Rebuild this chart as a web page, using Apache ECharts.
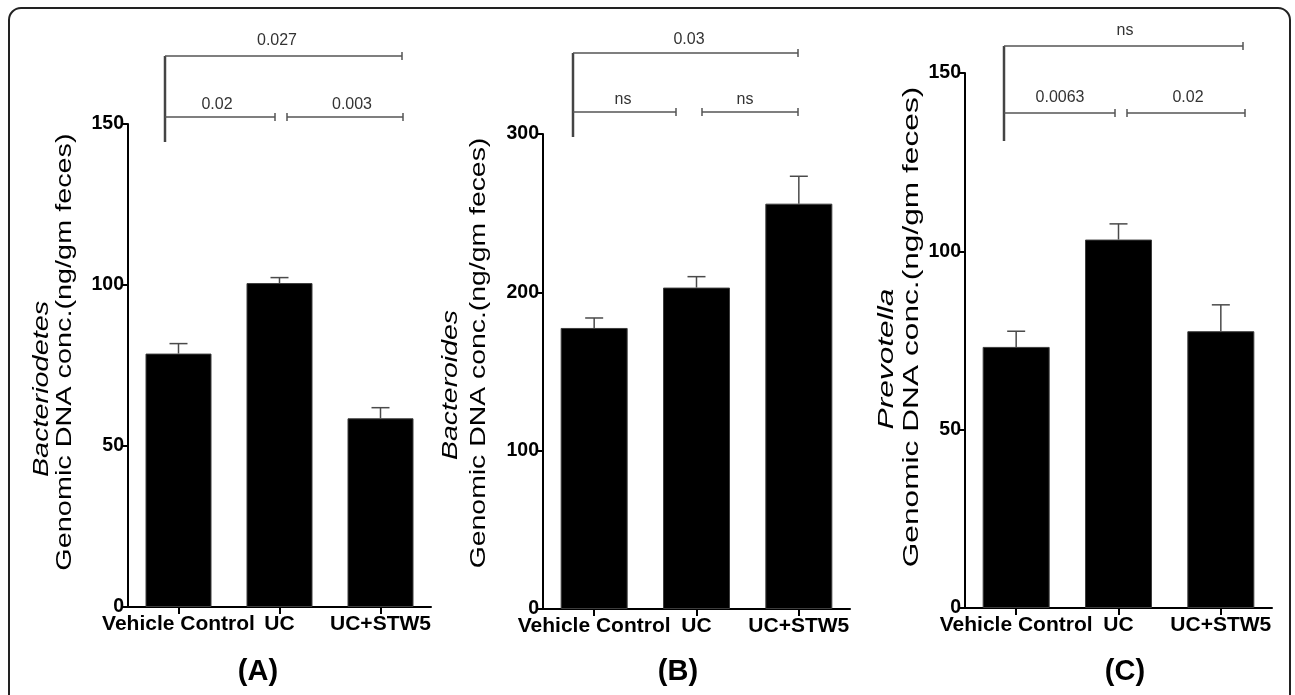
<!DOCTYPE html>
<html>
<head>
<meta charset="utf-8">
<script src="https://cdn.jsdelivr.net/npm/echarts@6/dist/echarts.min.js"></script>
<style>
html,body{margin:0;padding:0;background:#fff;}
#chart{width:1295px;height:695px;}
</style>
</head>
<body>
<div id="chart"></div>
<script>
// ---------- data ----------
const categories = ['Vehicle Control', 'UC', 'UC+STW5'];

const meanA = [78.7, 100.6, 58.6];
const semA  = [3.1, 1.7, 3.3];
const meanB = [177.5, 203, 256];
const semB  = [6.3, 6.9, 17.3];
const meanC = [73.2, 103.3, 77.6];
const semC  = [4.4, 4.4, 7.4];

const yMaxA = 150, yStepA = 50;
const yMaxB = 300, yStepB = 100;
const yMaxC = 150, yStepC = 50;

const titleA = ['Bacteriodetes', 'Genomic DNA conc.(ng/gm feces)'];
const titleB = ['Bacteroides', 'Genomic DNA conc.(ng/gm feces)'];
const titleC = ['Prevotella', 'Genomic DNA conc.(ng/gm feces)'];

const pA = ['0.027', '0.02', '0.003'];
const pB = ['0.03', 'ns', 'ns'];
const pC = ['ns', '0.0063', '0.02'];

const panelLabels = ['(A)', '(B)', '(C)'];

// ---------- layout ----------
const FONT = '"Liberation Sans", Arial, Helvetica, sans-serif';
const panels = [
  { mean: meanA, sem: semA, max: yMaxA, step: yStepA, title: titleA, p: pA, label: panelLabels[0],
    grid: { left: 128, top: 124, width: 303, height: 483 }, barW: 66,
    tt: { x1: 42, y1: 389, x2: 65, y2: 352, s: 1.31 },
    br: { x0: 165, yTop: 56, yBot: 142, xTopEnd: 402, y2: 117, xL: 275, xR0: 287, xR1: 403, tTop: 41, t2: 104.5, cTop: 277, cL: 217, cR: 352 },
    lab: { x: 258, y: 672 } },
  { mean: meanB, sem: semB, max: yMaxB, step: yStepB, title: titleB, p: pB, label: panelLabels[1],
    grid: { left: 543, top: 134, width: 307, height: 475 }, barW: 67,
    tt: { x1: 451, y1: 385, x2: 479, y2: 353, s: 1.29 },
    br: { x0: 573, yTop: 53, yBot: 137, xTopEnd: 798, y2: 112, xL: 676, xR0: 702, xR1: 798, tTop: 40, t2: 99.5, cTop: 689, cL: 623, cR: 745 },
    lab: { x: 678, y: 672 } },
  { mean: meanC, sem: semC, max: yMaxC, step: yStepC, title: titleC, p: pC, label: panelLabels[2],
    grid: { left: 965, top: 73, width: 307, height: 535 }, barW: 67,
    tt: { x1: 887, y1: 359, x2: 912, y2: 327, s: 1.44 },
    br: { x0: 1004, yTop: 46, yBot: 141, xTopEnd: 1243, y2: 113, xL: 1115, xR0: 1127, xR1: 1245, tTop: 31, t2: 97.5, cTop: 1125, cL: 1060, cR: 1188 },
    lab: { x: 1125, y: 672 } }
];

const grids = [], xAxes = [], yAxes = [], series = [], graphics = [];

function errRender(params, api) {
  const i = api.value(0), m = api.value(1), s = api.value(2);
  const p0 = api.coord([i, m]);
  const p1 = api.coord([i, m + s]);
  const half = 9;
  const st = { stroke: '#4a4a4a', lineWidth: 1.5 };
  return {
    type: 'group',
    children: [
      { type: 'line', shape: { x1: p0[0], y1: p0[1], x2: p1[0], y2: p1[1] }, style: st },
      { type: 'line', shape: { x1: p1[0] - half, y1: p1[1], x2: p1[0] + half, y2: p1[1] }, style: st }
    ]
  };
}

function txt(x, y, text, font, opts) {
  opts = opts || {};
  return {
    type: 'text', x: x, y: y, rotation: opts.rot || 0, scaleX: opts.sx || 1, scaleY: 1,
    silent: true, z: 100,
    style: { text: text, font: font, fill: opts.fill || '#000',
      textAlign: 'center', textVerticalAlign: 'middle', align: 'center', verticalAlign: 'middle' }
  };
}
function seg(x1, y1, x2, y2, w, c) {
  return { type: 'line', silent: true, z: 100, shape: { x1: x1, y1: y1, x2: x2, y2: y2 },
    style: { stroke: c || '#555', lineWidth: w || 1.5 } };
}

panels.forEach(function (P, k) {
  grids.push(Object.assign({ containLabel: false }, P.grid));
  xAxes.push({
    type: 'category', gridIndex: k, data: categories, boundaryGap: true,
    axisLine: { show: true, lineStyle: { color: '#000', width: 2 } },
    axisTick: { show: true, alignWithLabel: true, length: 7, lineStyle: { color: '#000', width: 2 } },
    axisLabel: { interval: 0, color: '#000', fontSize: 21, fontWeight: 'bold', fontFamily: FONT, margin: 7 },
    splitLine: { show: false }
  });
  yAxes.push({
    type: 'value', gridIndex: k, min: 0, max: P.max, interval: P.step,
    axisLine: { show: true, lineStyle: { color: '#000', width: 2 } },
    axisTick: { show: true, length: 6, lineStyle: { color: '#000', width: 2 } },
    axisLabel: { color: '#000', fontSize: 19.5, fontWeight: 'bold', fontFamily: FONT, margin: 4 },
    splitLine: { show: false }
  });
  series.push({
    type: 'bar', xAxisIndex: k, yAxisIndex: k, data: P.mean, barWidth: P.barW,
    itemStyle: { color: '#000', borderColor: '#3c3c3c', borderWidth: 1 },
    silent: true, z: 2
  });
  series.push({
    type: 'custom', xAxisIndex: k, yAxisIndex: k, renderItem: errRender, z: 5, silent: true,
    data: P.mean.map(function (m, i) { return [i, m, P.sem[i]]; })
  });

  // y-axis titles (stretched along their length as in the reference)
  graphics.push(txt(P.tt.x1, P.tt.y1, P.title[0], 'italic 22px ' + FONT, { rot: Math.PI / 2, sx: P.tt.s }));
  graphics.push(txt(P.tt.x2, P.tt.y2, P.title[1], '22px ' + FONT, { rot: Math.PI / 2, sx: P.tt.s }));

  // significance brackets
  const b = P.br;
  graphics.push(seg(b.x0, b.yTop, b.x0, b.yBot, 2.5, '#444'));
  graphics.push(seg(b.x0, b.yTop, b.xTopEnd, b.yTop, 1.5));
  graphics.push(seg(b.xTopEnd, b.yTop - 4, b.xTopEnd, b.yTop + 4, 1.5));
  graphics.push(seg(b.x0, b.y2, b.xL, b.y2, 1.5));
  graphics.push(seg(b.xL, b.y2 - 4, b.xL, b.y2 + 4, 1.5));
  graphics.push(seg(b.xR0, b.y2, b.xR1, b.y2, 1.5));
  graphics.push(seg(b.xR0, b.y2 - 4, b.xR0, b.y2 + 4, 1.5));
  graphics.push(seg(b.xR1, b.y2 - 4, b.xR1, b.y2 + 4, 1.5));
  graphics.push(txt(b.cTop, b.tTop, P.p[0], '16px ' + FONT, { fill: '#333' }));
  graphics.push(txt(b.cL, b.t2, P.p[1], '16px ' + FONT, { fill: '#333' }));
  graphics.push(txt(b.cR, b.t2, P.p[2], '16px ' + FONT, { fill: '#333' }));

  // panel label
  graphics.push(txt(P.lab.x, P.lab.y, P.label, 'bold 29px ' + FONT));
});

// outer rounded frame
graphics.push({
  type: 'rect', silent: true, z: 50,
  shape: { x: 9, y: 8, width: 1281, height: 730, r: 12 },
  style: { fill: 'none', stroke: '#222', lineWidth: 2 }
});

const chart = echarts.init(document.getElementById('chart'), null, { renderer: 'canvas' });
chart.setOption({
  backgroundColor: '#fff',
  animation: false,
  grid: grids,
  xAxis: xAxes,
  yAxis: yAxes,
  series: series,
  graphic: graphics
});
</script>
</body>
</html>
